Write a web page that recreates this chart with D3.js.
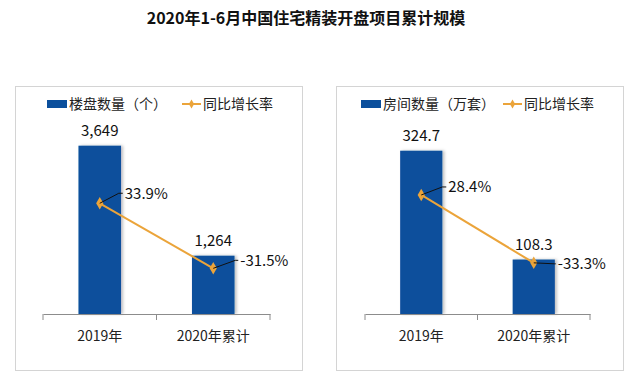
<!DOCTYPE html>
<html>
<head>
<meta charset="utf-8">
<script src="https://cdn.jsdelivr.net/npm/d3@7"></script>
<style>
  body { margin: 0; background: #fff; }
  svg text { font-family: "Noto Sans CJK SC", "Noto Sans", sans-serif; }
</style>
</head>
<body>
<div class="chart"></div>
<script>
// data
var title = "2020年1-6月中国住宅精装开盘项目累计规模";
var categories = ["2019年", "2020年累计"];
var projectCounts = [3649, 1264];
var projectGrowth = [33.9, -31.5];
var roomCounts = [324.7, 108.3];
var roomGrowth = [28.4, -33.3];
var projectLabels = ["3,649", "1,264"];
var roomLabels = ["324.7", "108.3"];
var legendBar = ["楼盘数量（个）", "房间数量（万套）"];
var legendLine = "同比增长率";

var width = 638,
    height = 392,
    blue = "#0b4f9c",
    orange = "#eba43a";

var svg = d3.select(".chart").append("svg")
    .attr("width", width)
    .attr("height", height);

var defs = svg.append("defs");
defs.append("filter")
    .attr("id", "shadow")
    .attr("x", "-20%").attr("width", "150%")
  .append("feDropShadow")
    .attr("dx", 2).attr("dy", 0)
    .attr("stdDeviation", 1.5)
    .attr("flood-color", "#000")
    .attr("flood-opacity", 0.25);

svg.append("text")
    .attr("x", 306)
    .attr("y", 24)
    .attr("text-anchor", "middle")
    .style("font-size", "16px")
    .style("font-weight", "bold")
    .style("fill", "#111")
    .text(title);

function panel(opt) {
  var g = svg.append("g");

  // frame
  g.append("rect")
      .attr("x", opt.box[0] + 0.5).attr("y", 86.5)
      .attr("width", opt.box[1] - opt.box[0]).attr("height", 284)
      .style("fill", "none")
      .style("stroke", "#d4d4d4");

  var x = d3.scaleBand()
      .domain(categories)
      .range(opt.xRange);

  var y = d3.scaleLinear()
      .domain([0, opt.yMax])
      .range([314, opt.yTop]);

  var y2 = d3.scaleLinear()
      .domain([-40, 40])
      .range(opt.lineRange);

  var bw = x.bandwidth() * 0.375;
  var cx = function(d, i) { return x(categories[i]) + x.bandwidth() / 2; };

  // bars
  g.selectAll("rect.bar")
      .data(opt.values)
    .enter().append("rect")
      .attr("class", "bar")
      .attr("x", function(d, i) { return cx(d, i) - bw / 2; })
      .attr("y", function(d) { return y(d); })
      .attr("width", bw)
      .attr("height", function(d) { return y(0) - y(d); })
      .attr("filter", "url(#shadow)")
      .style("fill", blue);

  // x axis
  var axis = g.append("g")
      .attr("transform", "translate(0,314)")
      .call(d3.axisBottom(x).tickSize(0).tickPadding(17));
  axis.select(".domain").style("stroke", "#8c8c8c");
  axis.selectAll("text")
      .style("font-size", "14px")
      .style("fill", "#222");
  axis.selectAll("line.sep")
      .data(opt.xRange.concat([(opt.xRange[0] + opt.xRange[1]) / 2]))
    .enter().append("line")
      .attr("class", "sep")
      .attr("x1", function(d) { return d; })
      .attr("x2", function(d) { return d; })
      .attr("y1", 0).attr("y2", 6)
      .style("stroke", "#8c8c8c");

  // value labels
  g.selectAll("text.val")
      .data(opt.labels)
    .enter().append("text")
      .attr("class", "val")
      .attr("x", cx)
      .attr("y", function(d, i) { return y(opt.values[i]) - 10; })
      .attr("text-anchor", "middle")
      .style("font-size", "15px")
      .style("fill", "#111")
      .text(function(d) { return d; });

  // growth line
  var line = d3.line()
      .x(function(d, i) { return cx(d, i); })
      .y(function(d) { return y2(d); });

  g.append("path")
      .datum(opt.growth)
      .attr("d", line)
      .style("fill", "none")
      .style("stroke", orange)
      .style("stroke-width", 2);

  g.selectAll("path.pt")
      .data(opt.growth)
    .enter().append("path")
      .attr("class", "pt")
      .attr("d", d3.symbol(d3.symbolDiamond, 45))
      .attr("transform", function(d, i) { return "translate(" + cx(d, i) + "," + y2(d) + ")"; })
      .style("fill", orange);

  // leader lines + growth labels
  opt.growth.forEach(function(d, i) {
    var px = cx(d, i), py = y2(d), o = opt.leaders[i];
    g.append("path")
        .attr("d", "M" + px + "," + py + "L" + (px + o[0]) + "," + (py + o[1]) + "h" + o[2])
        .style("fill", "none")
        .style("stroke", "#111")
        .style("stroke-width", 1);
    g.append("text")
        .attr("x", px + o[0] + o[2] + 2)
        .attr("y", py + o[1])
        .attr("dy", "0.35em")
        .style("font-size", "15px")
        .style("fill", "#111")
        .text((d > 0 ? "" : "-") + Math.abs(d).toFixed(1) + "%");
  });

  // legend
  var lg = g.append("g").attr("transform", "translate(" + opt.legend[0] + ",104)");
  lg.append("rect")
      .attr("x", 0).attr("y", -4)
      .attr("width", 20).attr("height", 8)
      .style("fill", blue);
  lg.append("text")
      .attr("x", 22).attr("dy", "0.35em")
      .style("font-size", "14px")
      .style("fill", "#222")
      .text(opt.legendName);
  var ll = lg.append("g").attr("transform", "translate(" + opt.legend[1] + ",0)");
  ll.append("line")
      .attr("x1", 0).attr("x2", 19)
      .style("stroke", orange)
      .style("stroke-width", 2);
  ll.append("path")
      .attr("d", d3.symbol(d3.symbolDiamond, 24))
      .attr("transform", "translate(9.5,0)")
      .style("fill", orange);
  ll.append("text")
      .attr("x", 21).attr("dy", "0.35em")
      .style("font-size", "14px")
      .style("fill", "#222")
      .text(legendLine);
}

panel({
  box: [15, 302],
  xRange: [43, 270],
  yMax: 4000, yTop: 129.5,
  lineRange: [276.8, 197.2],
  values: projectCounts,
  labels: projectLabels,
  growth: projectGrowth,
  leaders: [[19, -10, 4], [22, -8, 3]],
  legend: [47, 135],
  legendName: legendBar[0]
});

panel({
  box: [336, 623],
  xRange: [365, 590],
  yMax: 350, yTop: 138,
  lineRange: [270.2, 182.2],
  values: roomCounts,
  labels: roomLabels,
  growth: roomGrowth,
  leaders: [[21, -8, 4], [21, 1, 1]],
  legend: [361, 142],
  legendName: legendBar[1]
});
</script>
</body>
</html>
